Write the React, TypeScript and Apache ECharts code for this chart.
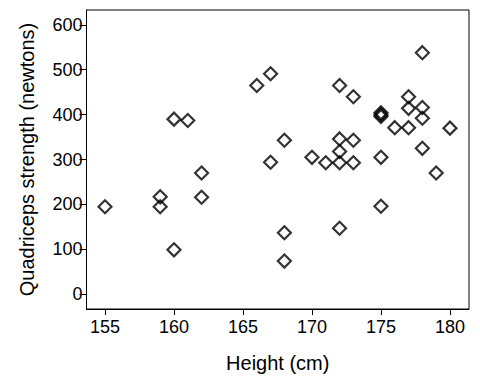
import React, { useEffect, useRef } from "react";
import * as echarts from "echarts";

const heights = [
  155, 159, 159, 160, 160, 161, 162, 162, 166, 167, 167, 168, 168, 168,
  170, 171, 172, 172, 172, 172, 172, 173, 173, 173, 175, 175, 175, 175, 175,
  176, 177, 177, 177, 178, 178, 178, 178, 179, 180,
];
const strengths = [
  195, 217, 195, 99, 390, 387, 270, 216, 465, 491, 294, 343, 137, 74,
  305, 293, 293, 465, 346, 318, 147, 440, 343, 293, 396, 400, 404, 305, 196,
  371, 440, 414, 371, 538, 416, 392, 325, 270, 370,
];
const xTicks = [155, 160, 165, 170, 175, 180];
const yTicks = [0, 100, 200, 300, 400, 500, 600];

const font = "'Liberation Sans', Arial, sans-serif";

export default function App() {
  const ref = useRef<HTMLDivElement>(null);
  useEffect(() => {
    if (!ref.current) return;
    const chart = echarts.init(ref.current, null, { renderer: "svg" });
    const data = heights.map((h, i) => [h, strengths[i]]);
    chart.setOption({
      animation: false,
      backgroundColor: "#fff",
      grid: {
        left: 86.5,
        right: 11,
        top: 10,
        bottom: 75,
        show: true,
        borderColor: "#000",
        borderWidth: 1,
        backgroundColor: "transparent",
      },
      xAxis: {
        type: "value",
        min: 153.66,
        max: 181.38,
        name: "Height (cm)",
        nameLocation: "middle",
        nameGap: 44,
        nameTextStyle: { color: "#000", fontSize: 20, fontFamily: font },
        axisLine: { show: true, onZero: false, lineStyle: { color: "#000" } },
        axisTick: { show: true, length: 6, customValues: xTicks, lineStyle: { color: "#000" } },
        axisLabel: { customValues: xTicks, color: "#000", fontSize: 18, fontFamily: font, margin: 9 },
        splitLine: { show: false },
      },
      yAxis: {
        type: "value",
        min: -32.7,
        max: 633,
        name: "Quadriceps strength (newtons)",
        nameLocation: "middle",
        nameGap: 50,
        nameTextStyle: { color: "#000", fontSize: 20, fontFamily: font },
        axisLine: { show: true, onZero: false, lineStyle: { color: "#000" } },
        axisTick: { show: true, length: 7, customValues: yTicks, lineStyle: { color: "#000" } },
        axisLabel: { customValues: yTicks, color: "#000", fontSize: 18, fontFamily: font, margin: 4 },
        splitLine: { show: false },
      },
      series: [
        {
          type: "scatter",
          data,
          symbol: "diamond",
          symbolSize: 13,
          itemStyle: { color: "rgba(0,0,0,0)", borderColor: "#000", borderWidth: 2.2 },
        },
      ],
    });
    return () => chart.dispose();
  }, []);
  return <div ref={ref} style={{ width: 480, height: 384, position: "absolute", left: 0, top: 0 }} />;
}
